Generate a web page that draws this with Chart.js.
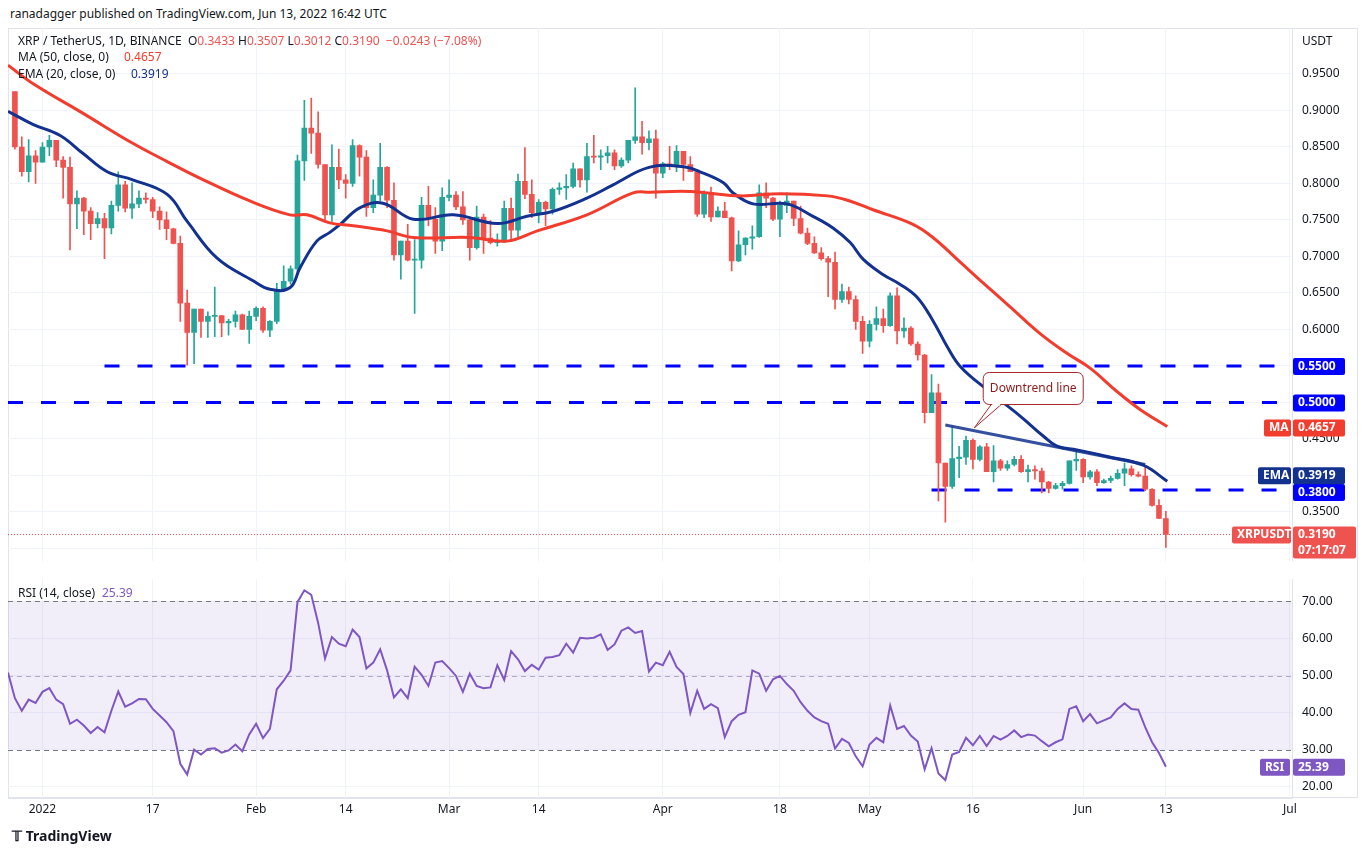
<!DOCTYPE html>
<html>
<head>
<meta charset="utf-8">
<script src="https://cdn.jsdelivr.net/npm/chart.js@4"></script>
<style>
  body { margin: 0; background: #fff; width: 1370px; height: 855px; overflow: hidden; font-family: "Noto Sans", sans-serif; }
  #top { position: absolute; left: 10px; top: 5px; font-size: 12px; color: #131722; }
  #frame { position: absolute; left: 8px; top: 28px; width: 1350px; height: 770px; border: 1px solid #e0e3eb; box-sizing: border-box; }
  #mainBox { position: absolute; left: 0; top: 0; width: 1370px; height: 578px; }
  #rsiBox { position: absolute; left: 0; top: 562px; width: 1370px; height: 267px; }
  #logo { position: absolute; left: 12px; top: 826px; font-size: 14px; font-weight: bold; color: #131722; }
</style>
</head>
<body>
<div id="top">ranadagger published on TradingView.com, Jun 13, 2022 16:42 UTC</div>
<div id="frame"></div>
<div id="mainBox"><canvas id="main"></canvas></div>
<div id="rsiBox"><canvas id="rsi"></canvas></div>
<div id="logo">𝕋 TradingView</div>
<script>
// day index 0 = Dec 28 2021, 167 = Jun 13 2022
const firstOpen = 0.926;
const closes = [
  0.850,0.816,0.838,0.829,0.850,0.859,0.832,0.822,0.772,0.780,
  0.762,0.745,0.752,0.739,0.770,0.798,0.766,0.772,0.780,0.778,
  0.762,0.750,0.738,0.718,0.636,0.596,0.628,0.611,0.618,0.619,
  0.609,0.611,0.620,0.600,0.618,0.629,0.599,0.611,0.655,0.666,
  0.683,0.831,0.876,0.869,0.826,0.757,0.822,0.805,0.800,0.852,
  0.836,0.767,0.784,0.822,0.777,0.702,0.721,0.695,0.695,0.770,
  0.751,0.721,0.781,0.784,0.768,0.750,0.712,0.754,0.725,0.719,
  0.721,0.766,0.736,0.803,0.785,0.760,0.774,0.765,0.792,0.794,
  0.796,0.820,0.805,0.837,0.836,0.838,0.842,0.824,0.832,0.859,
  0.864,0.856,0.861,0.814,0.827,0.824,0.844,0.826,0.816,0.758,
  0.788,0.754,0.762,0.753,0.694,0.716,0.725,0.727,0.787,0.780,
  0.751,0.770,0.776,0.752,0.732,0.718,0.705,0.697,0.692,0.641,
  0.652,0.641,0.611,0.584,0.607,0.615,0.605,0.646,0.598,0.602,
  0.580,0.565,0.486,0.513,0.417,0.385,0.423,0.425,0.448,0.422,
  0.439,0.405,0.420,0.410,0.415,0.422,0.405,0.408,0.406,0.391,
  0.382,0.386,0.389,0.420,0.422,0.398,0.405,0.390,0.393,0.396,
  0.403,0.409,0.401,0.399,0.381,0.359,0.341,0.319
];
const highs = [
  0.926,0.864,0.860,0.845,0.856,0.866,0.859,0.837,0.836,0.790,
  0.781,0.767,0.760,0.759,0.776,0.816,0.803,0.801,0.790,0.787,
  0.781,0.768,0.761,0.739,0.728,0.654,0.628,0.628,0.624,0.658,
  0.619,0.614,0.625,0.621,0.625,0.631,0.631,0.612,0.663,0.687,
  0.687,0.839,0.914,0.917,0.898,0.826,0.853,0.847,0.812,0.860,
  0.853,0.845,0.805,0.855,0.823,0.801,0.721,0.744,0.723,0.781,
  0.796,0.767,0.794,0.805,0.789,0.789,0.754,0.769,0.758,0.749,
  0.731,0.776,0.780,0.813,0.849,0.805,0.778,0.776,0.794,0.801,
  0.812,0.828,0.820,0.855,0.866,0.846,0.851,0.846,0.835,0.859,
  0.931,0.885,0.872,0.873,0.829,0.851,0.852,0.844,0.837,0.819,
  0.790,0.795,0.768,0.774,0.754,0.735,0.726,0.742,0.798,0.801,
  0.781,0.776,0.787,0.776,0.769,0.739,0.727,0.712,0.700,0.706,
  0.662,0.658,0.646,0.618,0.612,0.631,0.628,0.650,0.657,0.616,
  0.604,0.583,0.566,0.538,0.525,0.417,0.467,0.440,0.454,0.450,
  0.441,0.444,0.441,0.422,0.420,0.426,0.427,0.414,0.413,0.410,
  0.392,0.389,0.392,0.420,0.435,0.423,0.407,0.408,0.395,0.399,
  0.408,0.417,0.413,0.405,0.413,0.382,0.367,0.3507
];
const lows = [
  0.847,0.810,0.802,0.800,0.829,0.838,0.823,0.780,0.709,0.738,
  0.730,0.723,0.739,0.697,0.731,0.762,0.761,0.752,0.767,0.773,
  0.753,0.737,0.723,0.717,0.611,0.551,0.553,0.589,0.589,0.590,
  0.590,0.592,0.603,0.600,0.581,0.612,0.596,0.590,0.608,0.652,
  0.662,0.676,0.804,0.841,0.821,0.748,0.748,0.793,0.780,0.796,
  0.810,0.755,0.760,0.776,0.767,0.695,0.669,0.694,0.622,0.684,
  0.742,0.704,0.708,0.776,0.764,0.744,0.695,0.710,0.704,0.717,
  0.714,0.719,0.723,0.726,0.779,0.753,0.746,0.742,0.758,0.785,
  0.778,0.794,0.795,0.788,0.828,0.819,0.828,0.819,0.822,0.828,
  0.855,0.840,0.846,0.780,0.808,0.819,0.816,0.804,0.816,0.755,
  0.753,0.748,0.754,0.753,0.680,0.693,0.702,0.710,0.726,0.767,
  0.749,0.727,0.760,0.742,0.731,0.716,0.704,0.695,0.645,0.628,
  0.637,0.635,0.600,0.567,0.576,0.599,0.596,0.604,0.580,0.589,
  0.578,0.558,0.472,0.486,0.365,0.336,0.382,0.397,0.415,0.409,
  0.420,0.405,0.391,0.407,0.407,0.413,0.404,0.391,0.395,0.376,
  0.376,0.381,0.381,0.388,0.407,0.390,0.395,0.386,0.389,0.390,
  0.395,0.386,0.399,0.398,0.379,0.358,0.341,0.3012
];
// moving averages at sample days
const emaDays = [-1,2.6,6.5,9.9,13.4,17.1,22.1,25,29.3,34.5,37,39.9,41.4,43.8,45.7,47.2,50.1,53.4,57.8,63.6,70,74.3,78.1,83,86.8,92,97,99.4,102.8,104.2,107.1,112,115.8,118.7,121.2,123.1,126,128.4,130.9,133.2,135.3,137.2,141.1,145.9,149.2,151.2,154.1,158.5,163.7,167.2];
const emaVals = [0.899,0.881,0.866,0.841,0.816,0.805,0.785,0.748,0.698,0.667,0.655,0.657,0.685,0.721,0.733,0.744,0.767,0.773,0.751,0.757,0.745,0.755,0.762,0.780,0.798,0.822,0.823,0.816,0.801,0.787,0.772,0.772,0.755,0.739,0.719,0.696,0.675,0.662,0.644,0.612,0.576,0.549,0.517,0.481,0.454,0.440,0.435,0.426,0.414,0.392];
const maDays = [-1,2.6,9.9,17.1,22.1,26.9,34.1,39.9,42.4,45.7,49.1,54,57.8,66,71.4,75.8,83,89.7,92.2,98,105.2,111,117.9,120.8,124.5,130.3,133.2,137.2,140.1,144.4,148.8,152.7,156,159.9,163.3,167.2];
const maVals = [0.962,0.937,0.896,0.855,0.830,0.807,0.776,0.757,0.757,0.746,0.742,0.735,0.726,0.726,0.721,0.735,0.757,0.787,0.788,0.789,0.783,0.786,0.783,0.777,0.764,0.744,0.726,0.692,0.667,0.631,0.594,0.567,0.547,0.515,0.490,0.467];
const rsiStart = -1;
const rsiVals = [
  50.8,43.9,40.5,43.5,42.6,45.6,46.6,43.5,42.3,37.0,38.1,36.5,34.5,36.1,34.7,40.5,45.7,41.6,42.5,43.7,
  43.6,41.0,39.2,37.4,35.0,26.2,23.3,30.0,28.7,30.2,30.4,29.2,29.8,31.4,29.6,34.1,37.0,33.1,35.6,46.3,
  48.6,51.4,69.8,73.0,71.8,64.2,54.6,60.4,58.6,57.9,62.4,60.4,51.9,53.5,57.1,51.4,44.1,46.3,
  43.9,52.4,50.2,47.2,53.5,53.9,52.0,49.9,45.6,50.5,47.2,46.6,46.8,52.8,48.8,56.6,54.4,51.2,52.9,51.6,
  54.8,55.0,55.5,58.6,56.2,60.2,60.0,60.2,61.1,56.9,58.4,62.1,63.0,61.5,62.0,51.1,53.5,52.8,56.4,52.3,
  50.4,39.9,45.9,41.0,42.3,41.2,33.4,37.7,39.4,40.1,51.4,50.5,45.9,49.0,49.9,47.7,
  45.9,42.8,40.5,38.7,37.7,37.0,30.3,32.9,31.8,28.2,25.5,31.4,33.2,32.0,41.9,35.6,36.4,33.8,32.2,24.7,
  30.4,23.6,21.8,28.7,29.4,33.2,31.2,33.7,31.0,33.7,32.7,33.7,35.2,33.4,34.1,33.8,32.3,30.9,32.0,32.8,
  41.0,41.7,37.7,39.6,37.1,37.9,38.7,41.0,42.5,41.0,40.8,36.1,32.0,29.1,25.4
];
const tickDays = [4,20,35,48,63,76,94,111,124,139,155,167,185];
const tickLabels = ['2022','17','Feb','14','Mar','14','Apr','18','May','16','Jun','13','Jul'];
const levels = [0.55,0.50,0.38];
const levelStart = [13,-1,133];
const trendDays = [135,164];
const trendVals = [0.469,0.415];
// last values as printed in the legends
const maLegend = 0.4657, emaLegend = 0.3919, rsiLegend = 25.39;

const UP = '#26a69a', DOWN = '#ef5350', MA_C = '#f23c2d', EMA_C = '#13318f', LVL = '#0000ff';
const XMIN = -1, XMAX = 185.3;
const font = { family: 'Noto Sans', size: 12 };

const opens = closes.map((c, i) => i === 0 ? firstOpen : closes[i - 1]);
const bodies = closes.map((c, i) => ({ x: i, y: [opens[i], c] }));
const wicks = closes.map((c, i) => ({ x: i, y: [Math.min(lows[i], opens[i], c), Math.max(highs[i], opens[i], c)] }));
const colorOf = ctx => closes[ctx.dataIndex] >= opens[ctx.dataIndex] ? UP : DOWN;
const pairs = (xs, ys) => xs.map((x, i) => ({ x, y: ys[i] }));
const lastClose = closes[closes.length - 1];

function fixWidth(s) { s.width = 78; }
const xTicks = s => { s.ticks = tickDays.map(v => ({ value: v })); };

function box(ctx, x, y, w, h, bg, lines, fg) {
  ctx.fillStyle = bg;
  ctx.beginPath(); ctx.roundRect(x, y, w, h, 2); ctx.fill();
  ctx.fillStyle = fg || '#fff';
  ctx.font = 'bold 12px Noto Sans';
  ctx.textBaseline = 'middle'; ctx.textAlign = 'left';
  const lh = h / lines.length;
  lines.forEach((t, k) => ctx.fillText(t, x + 5, y + lh * k + lh / 2));
}

const mainLabels = {
  id: 'mainLabels',
  afterDraw(chart) {
    const { ctx, scales: { x, y }, chartArea } = chart;
    ctx.save();
    const ax = chartArea.right + 1;
    // white behind the label column where tick labels would collide
    ctx.fillStyle = '#fff';
    ctx.fillRect(ax, y.getPixelForValue(0.405), 60, y.getPixelForValue(0.372) - y.getPixelForValue(0.405));
    levels.forEach(v => {
      const shift = v === 0.38 ? 2 : 0;
      box(ctx, ax, y.getPixelForValue(v) - 8 + shift, 52, 17, LVL, [v.toFixed(4)]);
    });
    let py = y.getPixelForValue(maLegend);
    box(ctx, ax, py - 8, 52, 17, MA_C, [maLegend.toFixed(4)]);
    box(ctx, ax - 29, py - 8, 27, 17, MA_C, ['MA']);
    py = y.getPixelForValue(emaLegend) - 6;
    box(ctx, ax, py - 8, 52, 17, EMA_C, [emaLegend.toFixed(4)]);
    box(ctx, ax - 35, py - 8, 33, 17, EMA_C, ['EMA']);
    py = y.getPixelForValue(lastClose);
    box(ctx, ax, py - 8, 63, 32, DOWN, [lastClose.toFixed(4), '07:17:07']);
    box(ctx, ax - 61, py - 8, 59, 17, DOWN, ['XRPUSDT']);
    // callout
    const bx = x.getPixelForValue(140.5), by = y.getPixelForValue(0.541);
    const tx = x.getPixelForValue(139.2), ty = y.getPixelForValue(0.465);
    ctx.fillStyle = '#fff'; ctx.strokeStyle = '#a52a2a'; ctx.lineWidth = 1;
    ctx.beginPath(); ctx.roundRect(bx, by, 100, 32, 6); ctx.fill(); ctx.stroke();
    ctx.beginPath(); ctx.moveTo(bx + 8, by + 32); ctx.lineTo(tx, ty); ctx.lineTo(bx + 18, by + 32); ctx.stroke();
    ctx.fillStyle = '#fff'; ctx.fillRect(bx + 9, by + 30, 8, 3);
    ctx.fillStyle = '#8b1a1a'; ctx.font = '12px Noto Sans'; ctx.textAlign = 'center'; ctx.textBaseline = 'middle';
    ctx.fillText('Downtrend line', bx + 50, by + 16);
    // header legend
    ctx.textAlign = 'left'; ctx.textBaseline = 'middle'; ctx.font = '12px Noto Sans';
    let cx = 18;
    const seg = (t, c) => { ctx.fillStyle = c; ctx.fillText(t, cx, 42); cx += ctx.measureText(t).width; };
    seg('XRP / TetherUS, 1D, BINANCE  ', '#131722');
    seg('O', '#131722'); seg('0.3433 ', DOWN); seg('H', '#131722'); seg('0.3507 ', DOWN);
    seg('L', '#131722'); seg('0.3012 ', DOWN); seg('C', '#131722'); seg('0.3190  \u22120.0243 (\u22127.08%)', DOWN);
    ctx.fillStyle = '#131722'; ctx.fillText('MA (50, close, 0)', 18, 58);
    ctx.fillStyle = MA_C; ctx.fillText(maLegend.toFixed(4), 124, 58);
    ctx.fillStyle = '#131722'; ctx.fillText('EMA (20, close, 0)', 18, 75);
    ctx.fillStyle = EMA_C; ctx.fillText(emaLegend.toFixed(4), 131, 75);
    ctx.fillStyle = '#131722'; ctx.fillText('USDT', ax + 9, 42);
    ctx.restore();
  }
};

new Chart(document.getElementById('main'), {
  type: 'bar',
  data: {
    datasets: [
      ...levels.map((v, k) => ({ type: 'line', data: [{ x: levelStart[k], y: v }, { x: XMAX, y: v }], borderColor: LVL, borderWidth: 3, borderDash: [15, 18], pointRadius: 0, order: 5 })),
      { type: 'line', data: [{ x: XMIN, y: lastClose }, { x: XMAX, y: lastClose }], borderColor: DOWN, borderWidth: 1, borderDash: [1, 2], pointRadius: 0, order: 5 },
      { data: wicks, backgroundColor: colorOf, barThickness: 1, grouped: false, order: 3 },
      { data: bodies, backgroundColor: colorOf, barThickness: 5, minBarLength: 1, grouped: false, order: 2 },
      { type: 'line', data: pairs(maDays, maVals), borderColor: MA_C, borderWidth: 3, tension: 0.4, pointRadius: 0, order: 1 },
      { type: 'line', data: pairs(emaDays, emaVals), borderColor: EMA_C, borderWidth: 3, tension: 0.4, pointRadius: 0, order: 1 },
      { type: 'line', data: pairs(trendDays, trendVals), borderColor: 'rgba(19,49,143,0.85)', borderWidth: 3, pointRadius: 0, order: 0 }
    ]
  },
  options: {
    responsive: true, maintainAspectRatio: false, animation: false,
    layout: { padding: { left: 8, top: 28, right: 0, bottom: 0 } },
    plugins: { legend: { display: false }, tooltip: { enabled: false } },
    scales: {
      x: {
        type: 'linear', min: XMIN, max: XMAX, offset: false, afterBuildTicks: xTicks, afterFit: s => { s.height = 0; },
        ticks: { display: false }, grid: { color: '#f0f3fa', drawTicks: false, offset: false }, border: { display: false }
      },
      y: {
        position: 'right', min: 0.283, max: 1.013, afterFit: fixWidth,
        afterBuildTicks: s => { s.ticks = [0.30,0.35,0.40,0.45,0.50,0.55,0.60,0.65,0.70,0.75,0.80,0.85,0.90,0.95].map(v => ({ value: v })); },
        ticks: { padding: 10, color: '#131722', font,
          callback: v => Math.abs(v - 0.3) < 1e-6 ? '' : v.toFixed(4) },
        grid: { color: '#f0f3fa', drawTicks: false }, border: { color: '#e0e3eb' }
      }
    }
  },
  plugins: [mainLabels]
});

const rsiBand = {
  id: 'rsiBand',
  beforeDatasetsDraw(chart) {
    const { ctx, scales: { y }, chartArea: a } = chart;
    ctx.save();
    ctx.fillStyle = 'rgba(126,87,194,0.1)';
    ctx.fillRect(a.left, y.getPixelForValue(70), a.right - a.left, y.getPixelForValue(30) - y.getPixelForValue(70));
    [[70, '#787b86'], [50, '#b2a9c8'], [30, '#787b86']].forEach(([v, c]) => {
      ctx.strokeStyle = c; ctx.lineWidth = 1; ctx.setLineDash([5, 4]);
      const py = Math.round(y.getPixelForValue(v)) + 0.5;
      ctx.beginPath(); ctx.moveTo(a.left, py); ctx.lineTo(a.right, py); ctx.stroke();
    });
    ctx.restore();
  },
  afterDraw(chart) {
    const { ctx, scales: { y }, chartArea: a } = chart;
    ctx.save();
    const py = y.getPixelForValue(rsiLegend);
    box(ctx, a.right + 1, py - 8, 52, 17, '#7e57c2', [rsiLegend.toFixed(2)]);
    box(ctx, a.right - 32, py - 8, 30, 17, '#7e57c2', ['RSI']);
    ctx.font = '12px Noto Sans'; ctx.textBaseline = 'middle'; ctx.textAlign = 'left';
    ctx.fillStyle = '#131722'; ctx.fillText('RSI (14, close)', 18, a.top + 14);
    ctx.fillStyle = '#7e57c2'; ctx.fillText(rsiLegend.toFixed(2), 102, a.top + 14);
    ctx.restore();
  }
};

new Chart(document.getElementById('rsi'), {
  type: 'line',
  data: {
    datasets: [{ data: rsiVals.map((v, i) => ({ x: rsiStart + i, y: v })), borderColor: '#7e57c2', borderWidth: 2, pointRadius: 0, tension: 0 }]
  },
  options: {
    responsive: true, maintainAspectRatio: false, animation: false,
    layout: { padding: { left: 8, top: 0, right: 0, bottom: 8 } },
    plugins: { legend: { display: false }, tooltip: { enabled: false } },
    scales: {
      x: {
        type: 'linear', min: XMIN, max: XMAX, afterBuildTicks: xTicks,
        ticks: { color: '#131722', font, padding: 4, maxRotation: 0, autoSkip: false,
          callback: v => tickLabels[tickDays.indexOf(v)] },
        grid: { color: '#f0f3fa', drawTicks: false }, border: { color: '#e0e3eb' }
      },
      y: {
        position: 'right', min: 16.8, max: 76, afterFit: fixWidth,
        ticks: { padding: 10, color: '#131722', font, callback: v => v.toFixed(2) },
        afterBuildTicks: s => { s.ticks = [20, 30, 40, 50, 60, 70].map(v => ({ value: v })); },
        grid: { color: '#f0f3fa', drawTicks: false }, border: { color: '#e0e3eb' }
      }
    }
  },
  plugins: [rsiBand]
});
</script>
</body>
</html>
